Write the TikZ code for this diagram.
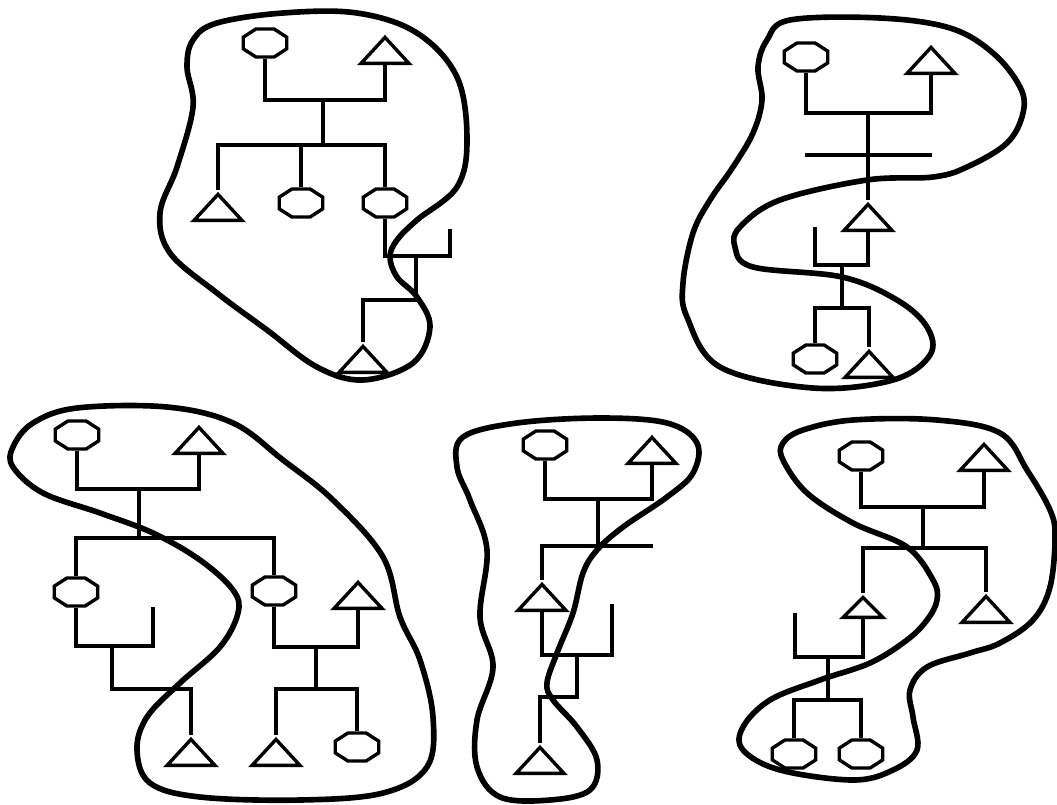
\documentclass[tikz,border=0pt]{standalone}
\usepackage{tikz}
\usetikzlibrary{
  shapes.geometric
}
\tikzset{
  octa/.style={regular polygon, regular polygon sides=8, draw, line width=2.4pt,
    minimum size=0.76cm, inner sep=0pt, xscale=1.55},
  tri/.style={isosceles triangle, shape border rotate=90, isosceles triangle stretches,
    draw, line width=2.4pt, minimum width=1.2cm, minimum height=0.65cm, inner sep=0pt, anchor=apex},
  tree/.style={line width=3pt},
  blob/.style={line width=4pt, line join=round}
}

\begin{document}
\begin{tikzpicture}[x=0.025cm, y=-0.025cm]
  \useasboundingbox (0,0) rectangle (1057,804);

  % top left
  \node[octa] (oA1) at (265,43) {};
  \node[tri] (tA1) at (385,33) {};
  \node[tri] (tA2) at (218,190) {};
  \node[octa] (oA2) at (301,203) {};
  \node[octa] (oA3) at (385,203) {};
  \node[tri] (tA3) at (363,342) {};
  \coordinate (jA1) at (323,100);
  \coordinate (jA2) at (323,145);
  \coordinate (jA3) at (416,256);
  \coordinate (jA4) at (416,300);
  \coordinate (sA) at (450,229);
  \draw[tree] (oA1.south) |- (jA1) -| (tA1.south);
  \draw[tree] (jA1) -- (jA2);
  \draw[tree] (tA2.apex) |- (jA2) -| (oA3.north);
  \draw[tree] (oA2.north) |- (jA2);
  \draw[tree] (oA3.south) |- (jA3) -| (sA);
  \draw[tree] (jA3) -- (jA4) -| (tA3.apex);
  \draw[blob] plot[smooth cycle, tension=0.6] coordinates {
    (283,13) (357,13) (417,33) (457,77) (467,140) (457,187) (417,220) (397,240)
    (390,257) (397,277) (417,297) (430,327) (413,363) (363,380) (317,367) (267,330)
    (217,293) (170,253) (160,213) (177,167) (193,107) (187,67) (193,40) (217,23)};

  % top right
  \node[octa] (oB1) at (806,57) {};
  \node[tri] (tB1) at (931,43) {};
  \node[tri] (tB2) at (868,200) {};
  \node[octa] (oB2) at (815,359) {};
  \node[tri] (tB3) at (869,347) {};
  \coordinate (jB1) at (868,113);
  \coordinate (jB2) at (842,265);
  \coordinate (jB3) at (842,308);
  \coordinate (sB) at (815,227);
  \coordinate (bL) at (805,155);
  \coordinate (bR) at (932,155);
  \draw[tree] (oB1.south) |- (jB1) -| (tB1.south);
  \draw[tree] (jB1) -- (tB2.apex);
  \draw[tree] (bL) -- (bR);
  \draw[tree] (tB2.south) |- (jB2) -| (sB);
  \draw[tree] (jB2) -- (jB3);
  \draw[tree] (oB2.north) |- (jB3) -| (tB3.apex);
  \draw[blob] plot[smooth cycle, tension=0.6] coordinates {
    (790,20) (880,18) (950,28) (993,53) (1020,87) (1023,113) (1007,143) (967,167)
    (933,177) (867,180) (780,200) (740,227) (735,247) (753,267) (842,277) (897,300)
    (927,327) (930,355) (893,380) (813,388) (720,367) (687,317) (683,283) (693,233)
    (710,200) (733,167) (753,133) (762,100) (758,67) (767,40)};

  % bottom left
  \node[octa] (oC1) at (77,435) {};
  \node[tri] (tC1) at (199,423) {};
  \node[octa] (oC2) at (76,592) {};
  \node[octa] (oC3) at (274,591) {};
  \node[tri] (tC2) at (358,578) {};
  \node[tri] (tC3) at (191,735) {};
  \node[tri] (tC4) at (276,735) {};
  \node[octa] (oC4) at (357,747) {};
  \coordinate (jC1) at (139,489);
  \coordinate (jC2) at (139,538);
  \coordinate (jC3) at (112,646);
  \coordinate (jC4) at (112,689);
  \coordinate (jC5) at (316,647);
  \coordinate (jC6) at (316,689);
  \coordinate (sC) at (153,607);
  \draw[tree] (oC1.south) |- (jC1) -| (tC1.south);
  \draw[tree] (jC1) -- (jC2);
  \draw[tree] (oC2.north) |- (jC2) -| (oC3.north);
  \draw[tree] (oC2.south) |- (jC3) -| (sC);
  \draw[tree] (jC3) -- (jC4) -| (tC3.apex);
  \draw[tree] (oC3.south) |- (jC5) -| (tC2.south);
  \draw[tree] (jC5) -- (jC6);
  \draw[tree] (tC4.apex) |- (jC6) -| (oC4.north);
  \draw[blob] plot[smooth cycle, tension=0.6] coordinates {
    (77,408) (167,407) (233,423) (283,460) (333,500) (383,557) (400,617) (420,660)
    (433,717) (427,767) (383,793) (300,800) (200,797) (150,783) (137,750) (147,717)
    (180,683) (220,647) (238,613) (233,590) (200,560) (153,533) (100,513) (43,493)
    (13,467) (13,447) (33,423)};

  % bottom middle
  \node[octa] (oD1) at (545,445) {};
  \node[tri] (tD1) at (652,433) {};
  \node[tri] (tD2) at (542,580) {};
  \node[tri] (tD3) at (540,743) {};
  \coordinate (jD1) at (598,499);
  \coordinate (jD2) at (598,546);
  \coordinate (jD3) at (577,655);
  \coordinate (jD4) at (577,697);
  \coordinate (eD) at (653,546);
  \coordinate (sD) at (612,604);
  \draw[tree] (oD1.south) |- (jD1) -| (tD1.south);
  \draw[tree] (jD1) -- (jD2);
  \draw[tree] (tD2.apex) |- (jD2) -- (eD);
  \draw[tree] (tD2.south) |- (jD3) -| (sD);
  \draw[tree] (jD3) -- (jD4) -| (tD3.apex);
  \draw[blob] plot[smooth cycle, tension=0.6] coordinates {
    (463,437) (517,423) (600,418) (667,423) (697,443) (693,473) (667,497) (623,527)
    (597,550) (583,573) (573,613) (557,653) (547,683) (553,700) (577,727) (597,760)
    (590,790) (550,800) (500,797) (477,767) (477,720) (493,667) (480,617) (487,550)
    (470,500) (457,467)};

  % bottom right
  \node[octa] (oE1) at (861,456) {};
  \node[tri] (tE1) at (984,440) {};
  \node[tri, minimum width=1cm, minimum height=0.5cm] (tE2) at (863,593) {};
  \node[tri] (tE3) at (986,592) {};
  \node[octa] (oE2) at (794,754) {};
  \node[octa] (oE3) at (861,754) {};
  \coordinate (jE1) at (923,507);
  \coordinate (jE2) at (923,548);
  \coordinate (jE3) at (828,657);
  \coordinate (jE4) at (828,700);
  \coordinate (sE) at (795,613);
  \draw[tree] (oE1.south) |- (jE1) -| (tE1.south);
  \draw[tree] (jE1) -- (jE2);
  \draw[tree] (tE2.apex) |- (jE2) -| (tE3.apex);
  \draw[tree] (tE2.south) |- (jE3) -| (sE);
  \draw[tree] (jE3) -- (jE4);
  \draw[tree] (oE2.north) |- (jE4) -| (oE3.north);
  \draw[blob] plot[smooth cycle, tension=0.6] coordinates {
    (803,430) (853,420) (937,420) (1000,433) (1027,470) (1050,510) (1055,537) (1050,587)
    (1033,620) (1000,643) (970,653) (927,667) (910,690) (913,717) (917,750) (893,770)
    (853,780) (780,770) (743,750) (743,727) (770,700) (820,680) (870,663) (907,640)
    (927,620) (937,600) (933,580) (907,547) (853,523) (807,493) (783,460) (783,443)};
\end{tikzpicture}
\end{document}
